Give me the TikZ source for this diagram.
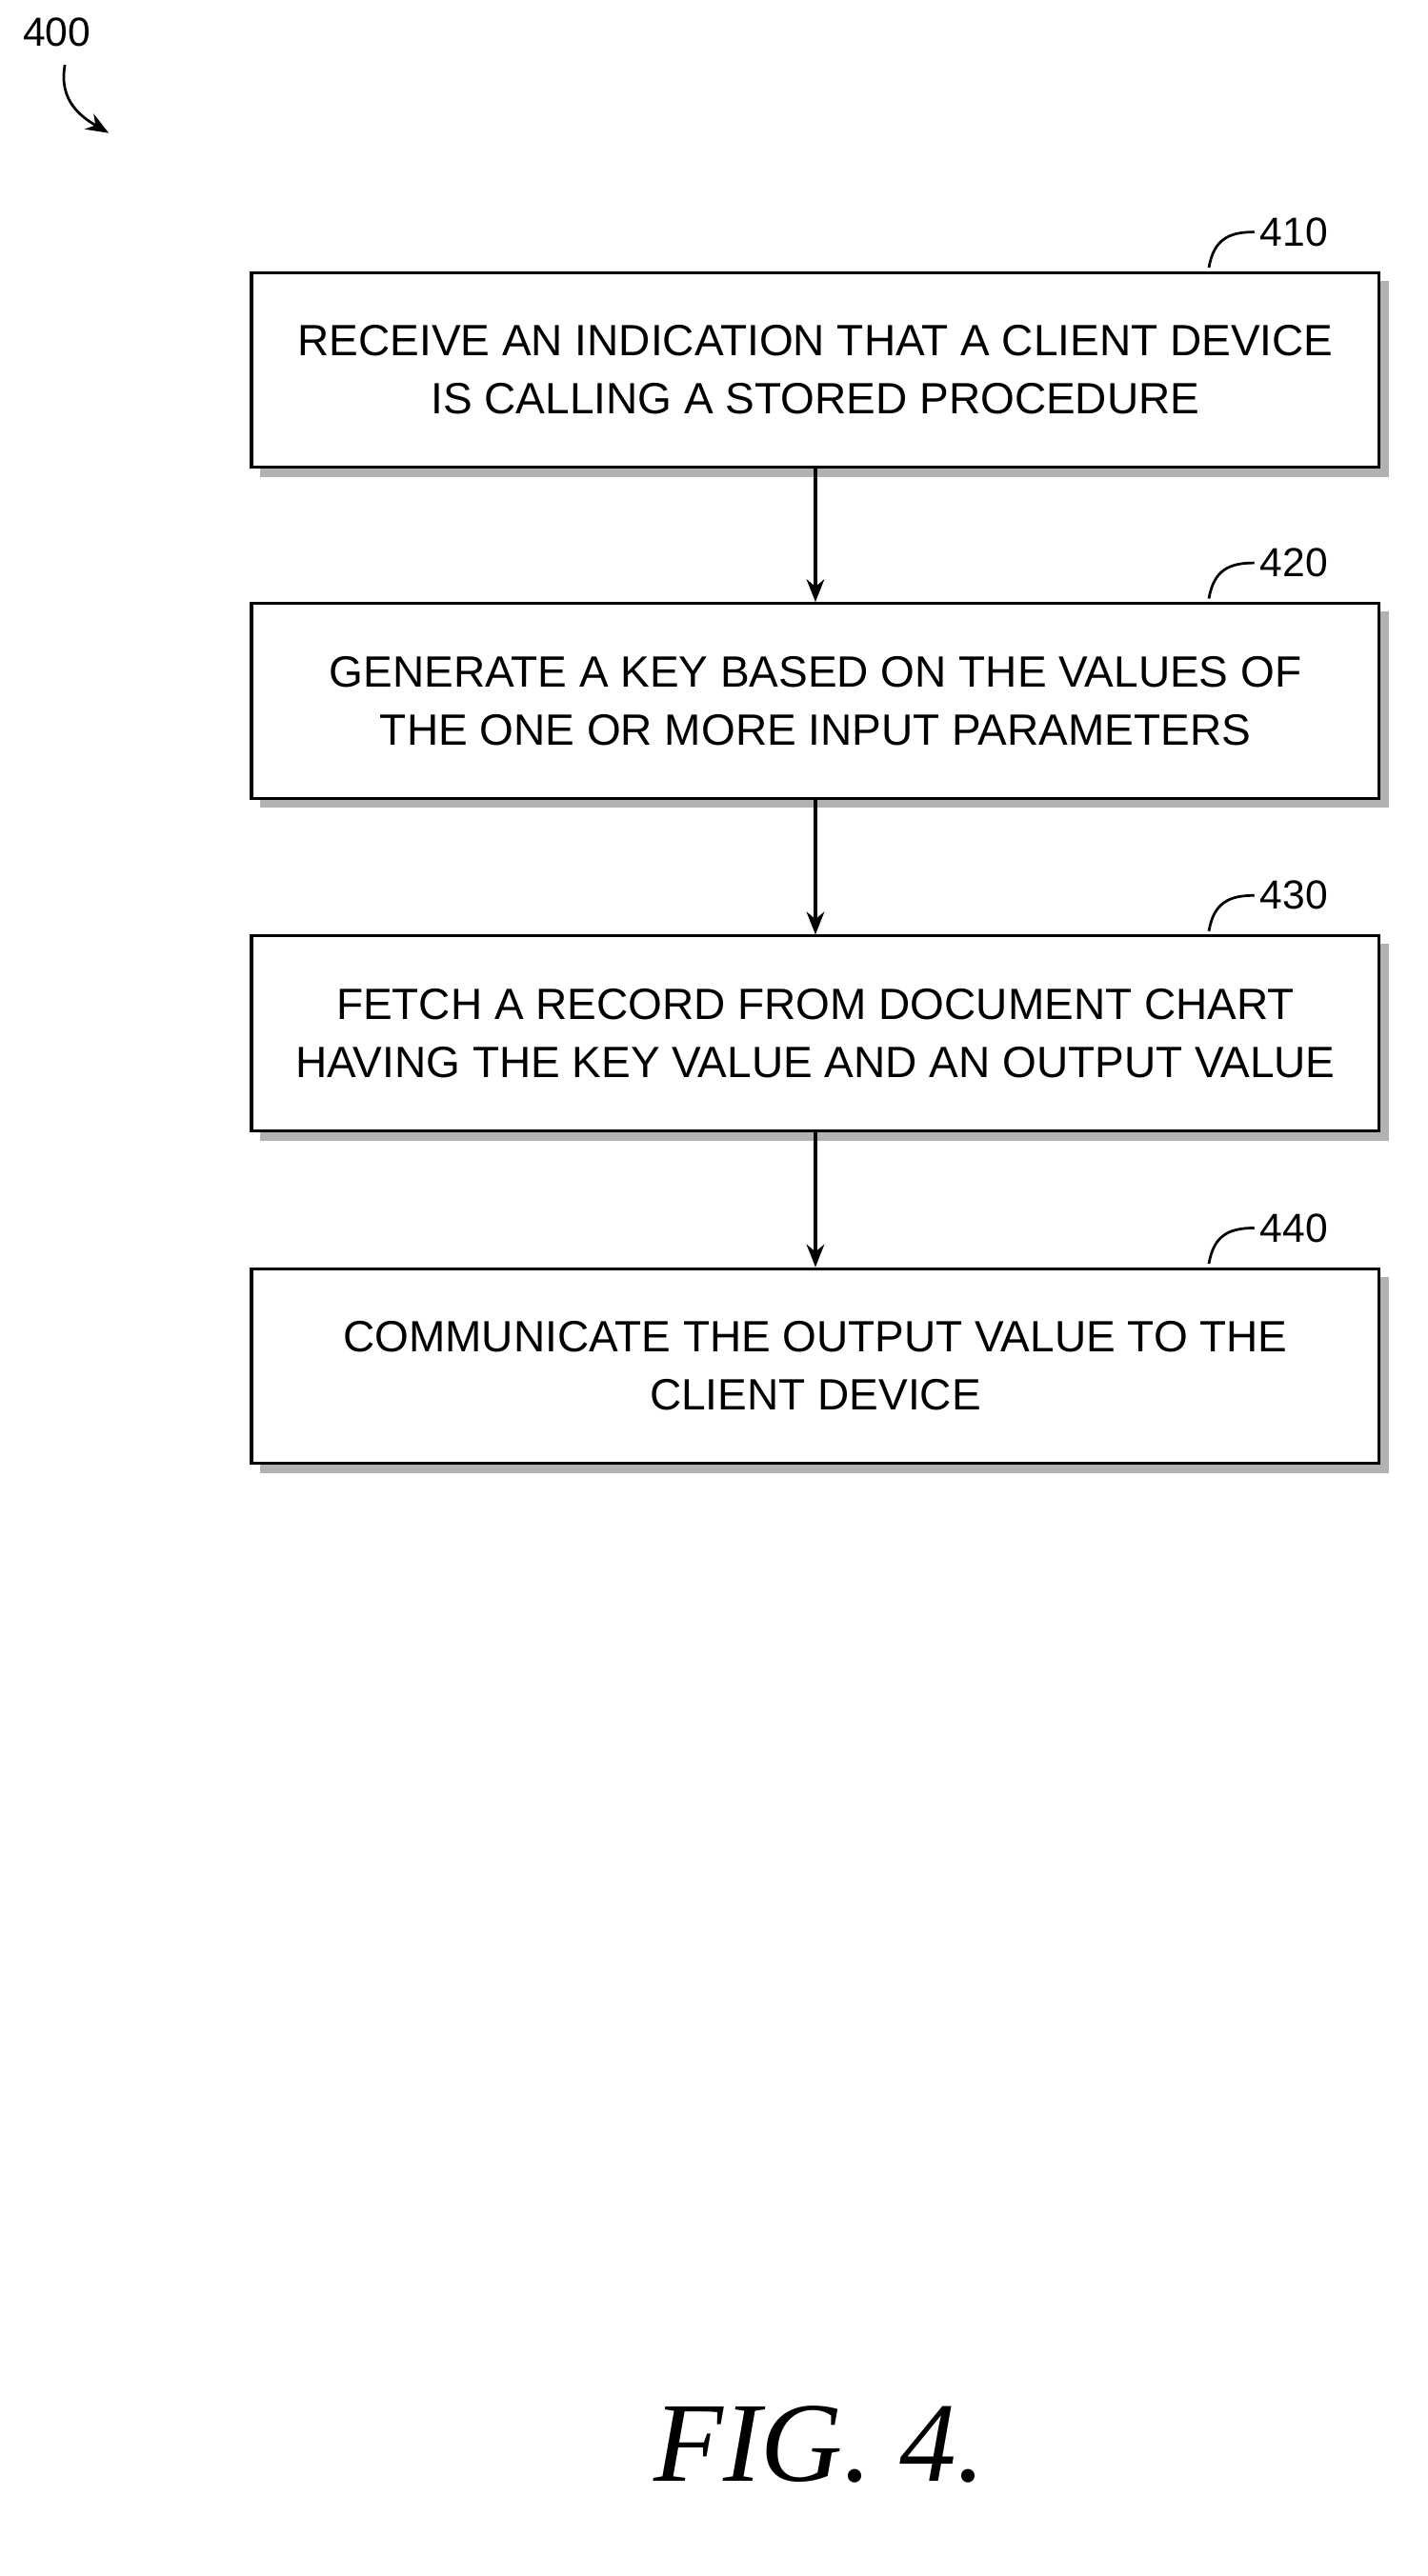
\documentclass[tikz,border=0pt]{standalone}
\usepackage{fontspec}
\setmainfont{Liberation Sans}
\newfontfamily\figfont{Liberation Serif}
\usetikzlibrary{arrows.meta}
\begin{document}
\begin{tikzpicture}[x=1pt,y=-1pt,
  box/.style={draw,line width=1.8pt,fill=white,minimum width=695pt,minimum height=120pt,align=center,font=\fontsize{27}{36}\selectfont},
  shadow/.style={fill=gray!60},
  lbl/.style={font=\fontsize{25}{28}\selectfont},
  arr/.style={line width=1.8pt,-{Stealth[length=14pt,width=11pt]}}]
\useasboundingbox (0,0) rectangle (880,1588);
\fill[shadow] (160,173) rectangle (856,294);
\node[box] (b410) at (502.5,228) {RECEIVE AN INDICATION THAT A CLIENT DEVICE\\IS CALLING A STORED PROCEDURE};
\fill[shadow] (160,377) rectangle (856,498);
\node[box] (b420) at (502.5,432) {GENERATE A KEY BASED ON THE VALUES OF\\THE ONE OR MORE INPUT PARAMETERS};
\fill[shadow] (160,582) rectangle (856,703);
\node[box] (b430) at (502.5,637) {FETCH A RECORD FROM DOCUMENT CHART\\HAVING THE KEY VALUE AND AN OUTPUT VALUE};
\fill[shadow] (160,787) rectangle (856,908);
\node[box] (b440) at (502.5,842) {COMMUNICATE THE OUTPUT VALUE TO THE\\CLIENT DEVICE};
\draw[arr] (b410) -- (b420);
\draw[arr] (b420) -- (b430);
\draw[arr] (b430) -- (b440);
\foreach \n/\y in {410/143,420/347,430/552,440/757}{
  \node[lbl,anchor=west] (l\n) at (773,\y) {\n};
  \draw[line width=1.6pt] (745,\y+22) .. controls (748,\y+4) and (758,\y) .. (l\n.west);
}
\node[lbl] (l400) at (35,20) {400};
\coordinate (a400) at (67,82);
\draw[line width=1.6pt,-{Stealth[length=14pt,width=11pt]}] (40,40) .. controls (36,62) and (50,72) .. (a400);
\node[font=\figfont\itshape\fontsize{70}{74}\selectfont] (fig) at (505,1507) {FIG. 4.};
\end{tikzpicture}
\end{document}
